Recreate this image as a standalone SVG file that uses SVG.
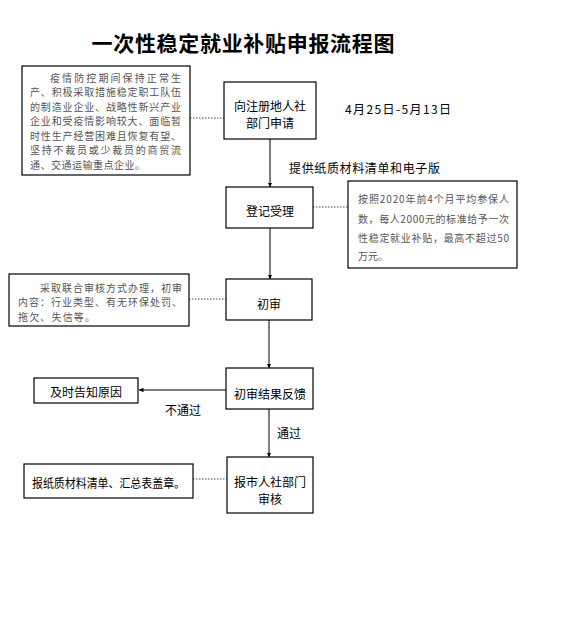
<svg xmlns="http://www.w3.org/2000/svg" width="565" height="617" viewBox="0 0 565 617">
<style>
.box{fill:#fff;stroke:#000;stroke-width:1.2}
.lbl{font-family:"Noto Sans CJK SC","Liberation Sans",sans-serif;font-size:12px;fill:#000;text-anchor:middle;dominant-baseline:central}
.free{font-family:"Noto Sans CJK SC","Liberation Sans",sans-serif;font-size:12px;fill:#000;dominant-baseline:central}
.note{font-family:"Noto Sans CJK SC","Liberation Sans",sans-serif;font-size:10px;fill:#555;dominant-baseline:central}
.title{font-family:"Noto Sans CJK SC",sans-serif;font-size:21px;font-weight:bold;fill:#000;text-anchor:middle;dominant-baseline:central}
.con{stroke:#555;stroke-width:1.5;fill:none}
.dot{stroke:#444;stroke-width:1;stroke-dasharray:1.5 1.5;fill:none}
</style>
<defs>
<marker id="ah" viewBox="0 0 6 6" refX="6" refY="3" markerWidth="4.5" markerHeight="4.5" markerUnits="userSpaceOnUse" orient="auto">
<path d="M0,0 L6,3 L0,6 Z" fill="#000"/>
</marker>
</defs>
<rect width="565" height="617" fill="#fff"/>
<text class="title" x="243" y="42" textLength="303" lengthAdjust="spacing">一次性稳定就业补贴申报流程图</text>

<g id="connectors">
<line class="dot" x1="190" y1="118" x2="224" y2="118"/>
<line class="con" x1="270" y1="139" x2="270" y2="187" marker-end="url(#ah)"/>
<line class="dot" x1="313" y1="207" x2="348" y2="207"/>
<line class="con" x1="270" y1="228" x2="270" y2="279" marker-end="url(#ah)"/>
<line class="dot" x1="189" y1="299" x2="226" y2="299"/>
<line class="con" x1="269" y1="320" x2="269" y2="368" marker-end="url(#ah)"/>
<line class="con" x1="226" y1="390" x2="139" y2="390" marker-end="url(#ah)" stroke="#888"/>
<line class="con" x1="269" y1="409" x2="269" y2="457" marker-end="url(#ah)"/>
<line class="dot" x1="193" y1="479" x2="227" y2="479"/>
<text class="free" x="289" y="167" textLength="151" lengthAdjust="spacing">提供纸质材料清单和电子版</text>
<text class="free" x="165" y="409">不通过</text>
<text class="free" x="277" y="432">通过</text>
</g>

<g id="note1">
<rect class="box" x="22" y="66" width="168" height="109"/>
<text class="note" x="50" y="77" textLength="131" lengthAdjust="spacing">疫情防控期间保持正常生</text>
<text class="note" x="30" y="91.5" textLength="151" lengthAdjust="spacing">产、积极采取措施稳定职工队伍</text>
<text class="note" x="30" y="106" textLength="151" lengthAdjust="spacing">的制造业企业、战略性新兴产业</text>
<text class="note" x="30" y="120.5" textLength="151" lengthAdjust="spacing">企业和受疫情影响较大、面临暂</text>
<text class="note" x="30" y="135" textLength="151" lengthAdjust="spacing">时性生产经营困难且恢复有望、</text>
<text class="note" x="30" y="149.5" textLength="151" lengthAdjust="spacing">坚持不裁员或少裁员的商贸流</text>
<text class="note" x="30" y="164" textLength="115" lengthAdjust="spacing">通、交通运输重点企业。</text>
</g>

<g id="apply">
<rect class="box" x="224" y="82" width="92" height="57"/>
<text class="lbl" x="270" y="105">向注册地人社</text>
<text class="lbl" x="270" y="122">部门申请</text>
</g>

<g id="date">
<text class="free" x="345" y="108" textLength="106" lengthAdjust="spacing">4月25日-5月13日</text>
</g>

<g id="register">
<rect class="box" x="226" y="187" width="87" height="41"/>
<text class="lbl" x="270" y="210">登记受理</text>
</g>

<g id="note2">
<rect class="box" x="348" y="181" width="169" height="87"/>
<text class="note" x="358" y="198" textLength="151" lengthAdjust="spacing">按照2020年前4个月平均参保人</text>
<text class="note" x="358" y="218" textLength="151" lengthAdjust="spacing">数，每人2000元的标准给予一次</text>
<text class="note" x="358" y="237" textLength="151" lengthAdjust="spacing">性稳定就业补贴，最高不超过50</text>
<text class="note" x="358" y="255">万元。</text>
</g>

<g id="first-review">
<rect class="box" x="226" y="279" width="86" height="41"/>
<text class="lbl" x="269" y="303">初审</text>
</g>

<g id="note3">
<rect class="box" x="9" y="274" width="180" height="52"/>
<text class="note" x="40" y="287" textLength="142" lengthAdjust="spacing">采取联合审核方式办理，初审</text>
<text class="note" x="18" y="301" textLength="164" lengthAdjust="spacing">内容：行业类型、有无环保处罚、</text>
<text class="note" x="18" y="316" textLength="77" lengthAdjust="spacing">拖欠、失信等。</text>
</g>

<g id="feedback">
<rect class="box" x="226" y="368" width="87" height="41"/>
<text class="lbl" x="270" y="393">初审结果反馈</text>
</g>

<g id="notify">
<rect class="box" x="34" y="378" width="104" height="25"/>
<text class="lbl" x="86" y="391">及时告知原因</text>
</g>

<g id="city-review">
<rect class="box" x="227" y="457" width="86" height="56"/>
<text class="lbl" x="270" y="481">报市人社部门</text>
<text class="lbl" x="270" y="498">审核</text>
</g>

<g id="submit">
<rect class="box" x="24" y="464" width="169" height="34"/>
<text class="free" x="32" y="482" textLength="153" lengthAdjust="spacingAndGlyphs">报纸质材料清单、汇总表盖章。</text>
</g>
</svg>
